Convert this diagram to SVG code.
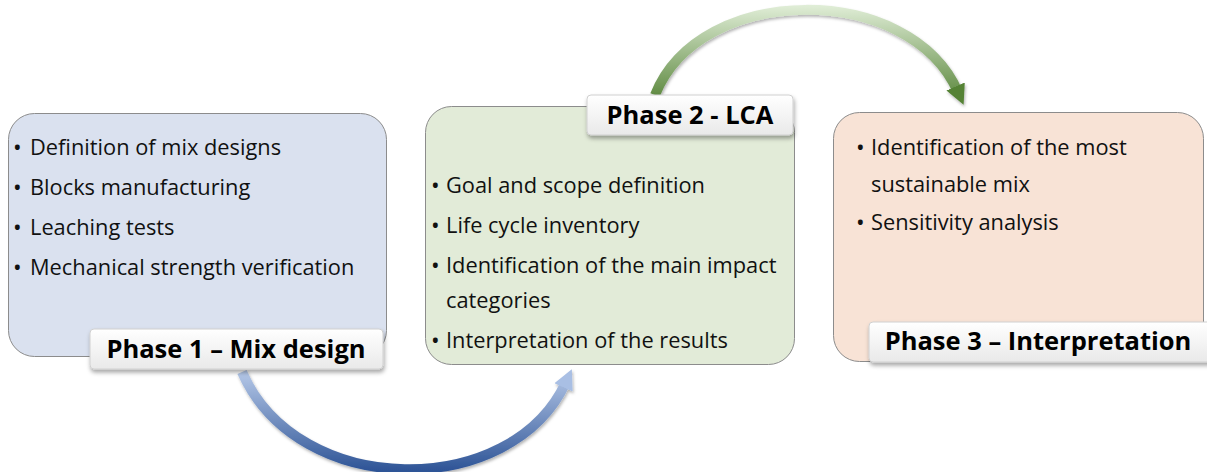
<svg xmlns="http://www.w3.org/2000/svg" width="1207" height="472" viewBox="0 0 1207 472">
  <style>
    .item { font-family: "Open Sans", "Noto Sans", sans-serif; font-size: 21.8px; fill: #111; }
    .dot { font-family: "Open Sans", "Noto Sans", sans-serif; font-size: 23px; fill: #111; }
    .title { font-family: "Open Sans", "Noto Sans", sans-serif; font-size: 25.5px; font-weight: bold; fill: #000; text-anchor: middle; }
    .phase { stroke: #8c8c8c; stroke-width: 1; }
    .tag { fill: url(#tagFill); stroke: #d0d0d0; stroke-width: 1; filter: url(#shadow); }
  </style>
  <defs>
    <linearGradient id="tagFill" x1="0" y1="0" x2="0" y2="1">
      <stop offset="0" stop-color="#ffffff"/>
      <stop offset="1" stop-color="#e9e9e9"/>
    </linearGradient>
    <linearGradient id="blueArc" gradientUnits="userSpaceOnUse" x1="0" y1="372" x2="0" y2="470">
      <stop offset="0" stop-color="#b4c7e7"/>
      <stop offset="1" stop-color="#2f5597"/>
    </linearGradient>
    <linearGradient id="greenArc" gradientUnits="userSpaceOnUse" x1="0" y1="4" x2="0" y2="105">
      <stop offset="0" stop-color="#e2efd9"/>
      <stop offset="1" stop-color="#548235"/>
    </linearGradient>
    <filter id="shadow" x="-10%" y="-20%" width="120%" height="160%">
      <feDropShadow dx="1" dy="3" stdDeviation="2" flood-color="#000" flood-opacity="0.35"/>
    </filter>
    <filter id="arcShadow" x="-10%" y="-20%" width="120%" height="160%">
      <feDropShadow dx="1" dy="2" stdDeviation="1.5" flood-color="#000" flood-opacity="0.3"/>
    </filter>
    <marker id="headBlue" viewBox="0 0 10 10" refX="3" refY="5" markerWidth="2" markerHeight="2" orient="auto" markerUnits="strokeWidth">
      <path d="M0,0 L10,5 L0,10 z" fill="#a9bfe4"/>
    </marker>
    <marker id="headGreen" viewBox="0 0 10 10" refX="3" refY="5" markerWidth="2" markerHeight="2" orient="auto" markerUnits="strokeWidth">
      <path d="M0,0 L10,5 L0,10 z" fill="#548235"/>
    </marker>
  </defs>

  <!-- connectors -->
  <g id="connectors" fill="none" filter="url(#arcShadow)">
    <path d="M242,372 C298,500 512,500 566,382" stroke="url(#blueArc)" stroke-width="10" marker-end="url(#headBlue)"/>
    <path d="M655,95 C700,-18 910,-18 958,92" stroke="url(#greenArc)" stroke-width="10" marker-end="url(#headGreen)"/>
  </g>

  <!-- phase 1 -->
  <g id="phase1">
    <rect class="phase" x="8.5" y="113.5" width="378" height="243" rx="26" fill="#dae1ef"/>
    <text class="dot" x="13" y="156">•</text>
    <text class="item" x="30" y="155">Definition of mix designs</text>
    <text class="dot" x="13" y="196">•</text>
    <text class="item" x="30" y="195">Blocks manufacturing</text>
    <text class="dot" x="13" y="236">•</text>
    <text class="item" x="30" y="235">Leaching tests</text>
    <text class="dot" x="13" y="276">•</text>
    <text class="item" x="30" y="275">Mechanical strength verification</text>
    <rect class="tag" x="90" y="329" width="293" height="40" rx="4"/>
    <text class="title" x="236" y="358">Phase 1 – Mix design</text>
  </g>

  <!-- phase 2 -->
  <g id="phase2">
    <rect class="phase" x="425.5" y="106.5" width="369" height="258" rx="26" fill="#e2ebd8"/>
    <text class="dot" x="431" y="194">•</text>
    <text class="item" x="446" y="193">Goal and scope definition</text>
    <text class="dot" x="431" y="234">•</text>
    <text class="item" x="446" y="233">Life cycle inventory</text>
    <text class="dot" x="431" y="274">•</text>
    <text class="item" x="446" y="273">Identification of the main impact</text>
    <text class="item" x="446" y="308">categories</text>
    <text class="dot" x="431" y="349">•</text>
    <text class="item" x="446" y="348">Interpretation of the results</text>
    <rect class="tag" x="587" y="95" width="206" height="40" rx="4"/>
    <text class="title" x="690" y="124">Phase 2 - LCA</text>
  </g>

  <!-- phase 3 -->
  <g id="phase3">
    <rect class="phase" x="833.5" y="112.5" width="370" height="249" rx="26" fill="#f8e3d6"/>
    <text class="dot" x="856" y="156">•</text>
    <text class="item" x="871" y="155">Identification of the most</text>
    <text class="item" x="871" y="192">sustainable mix</text>
    <text class="dot" x="856" y="231">•</text>
    <text class="item" x="871" y="230">Sensitivity analysis</text>
    <rect class="tag" x="869" y="322" width="345" height="40" rx="4"/>
    <text class="title" x="1038" y="350">Phase 3 – Interpretation</text>
  </g>
</svg>
